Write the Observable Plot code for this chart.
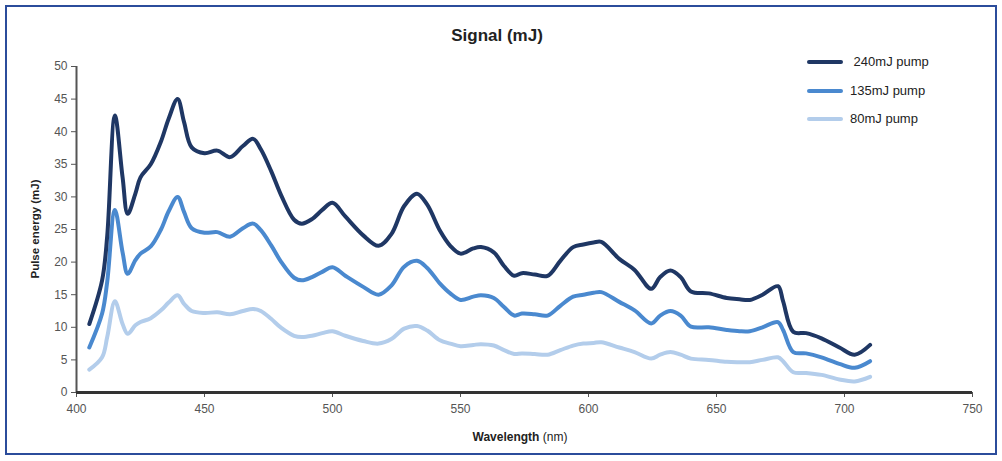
<!DOCTYPE html>
<html>
<head>
<meta charset="utf-8">
<script src="https://cdn.jsdelivr.net/npm/d3@7"></script>
<script src="https://cdn.jsdelivr.net/npm/@observablehq/plot@0.6"></script>
<style>
  body { margin: 0; background: #fff; }
  #wrap { position: relative; width: 1002px; height: 461px; overflow: hidden; font-family: "Liberation Sans", Arial, sans-serif; }
  #frame { position: absolute; left: 5px; top: 5px; width: 988px; height: 446px; border: 2.5px solid #2b4c9b; pointer-events: none; }
  .lbl { position: absolute; white-space: nowrap; color: #222; transform: translate(-50%, -50%); }
  #title { left: 497px; top: 36px; font-weight: bold; font-size: 17px; color: #222; }
  #ylab { left: 35px; top: 229px; font-weight: bold; font-size: 11.5px; transform: translate(-50%, -50%) rotate(-90deg); }
  #xlab { left: 520px; top: 437px; font-weight: bold; font-size: 12px; }
  #xlab span { font-weight: normal; }
  .leg { position: absolute; left: 807px; display: flex; align-items: center; font-size: 13px; color: #222; }
  .sw { width: 36px; height: 4px; margin-right: 7px; border-radius: 2px; }
</style>
</head>
<body>
<div id="wrap">
  <div id="chart"></div>
  <div id="title" class="lbl">Signal (mJ)</div>
  <div id="ylab" class="lbl">Pulse energy (mJ)</div>
  <div id="xlab" class="lbl">Wavelength <span>(nm)</span></div>
  <div id="legend"></div>
  <div id="frame"></div>
</div>
<script>
const wavelength = [405,410,412,415,418,420,423,425,429,433,436,439.5,442,445,450,455,460,465,469,472,476,480,485,488,492,496,500,505,512,518,523,528,533,537,542,546,550,555,558,563,567,571,574,579,584,589,594,598,602,605,612,618,624.5,628,632,636,640,647,654,659,663,668,674,676,680,685,691,698,704,710];

const pump240 = [10.5,17.2,24,42.5,33,27.4,30.5,33,35,38.5,42,45,41.5,37.6,36.7,37.1,36.1,37.8,38.9,37.3,34,30.2,26.5,25.9,26.6,28,29.1,27,24.1,22.5,24.3,28.6,30.5,28.8,24.8,22.5,21.3,22.1,22.3,21.5,19.4,17.9,18.3,18.1,17.9,20.2,22.3,22.7,23.0,23.1,20.5,18.8,15.9,17.7,18.7,17.7,15.5,15.2,14.5,14.3,14.2,15.0,16.3,14,9.3,9.1,8.3,6.9,5.8,7.3];

const pump135 = [6.9,12.1,17,28,21.5,18.2,20.3,21.3,22.4,25,27.8,30,27.7,25.2,24.5,24.6,23.9,25.2,25.9,24.9,22.6,20.0,17.6,17.2,17.7,18.5,19.2,17.9,16.2,15.0,16.4,19.3,20.2,19.1,16.7,15.2,14.2,14.7,14.9,14.5,13.1,11.8,12.1,12.0,11.8,13.3,14.7,15.0,15.3,15.4,13.9,12.6,10.6,11.8,12.5,11.8,10.1,10.0,9.6,9.4,9.4,10.0,10.8,9.6,6.2,6.0,5.4,4.4,3.8,4.8];

const pump80 = [3.5,5.4,8.5,14.0,10.5,9.0,10.3,10.8,11.4,12.6,13.8,14.9,13.6,12.5,12.2,12.3,12.0,12.5,12.8,12.5,11.3,9.9,8.7,8.5,8.7,9.1,9.4,8.7,7.9,7.5,8.2,9.8,10.2,9.5,8.0,7.5,7.1,7.3,7.4,7.2,6.5,5.9,6.0,5.9,5.8,6.5,7.2,7.5,7.6,7.7,6.9,6.2,5.2,5.8,6.2,5.8,5.2,5.0,4.7,4.65,4.65,5.0,5.4,4.8,3.1,3.0,2.7,2.0,1.7,2.4];

const seriesNames = [" 240mJ pump", "135mJ pump", "80mJ pump"];
const seriesColors = ["#1f3764", "#4a89cf", "#b3cdeb"];
const xTicks = [400,450,500,550,600,650,700,750];
const yTicks = [0,5,10,15,20,25,30,35,40,45,50];

const seriesValues = [pump240, pump135, pump80];
const rows = [];
// draw light first so dark is on top
for (let s = seriesValues.length - 1; s >= 0; s--) {
  seriesValues[s].forEach((v, i) => rows.push({w: wavelength[i], v, series: seriesNames[s]}));
}

const chart = Plot.plot({
  width: 1002,
  height: 461,
  marginLeft: 76,
  marginRight: 30,
  marginTop: 66,
  marginBottom: 69,
  style: {fontFamily: "'Liberation Sans', Arial, sans-serif", fontSize: "12px", color: "#555", background: "transparent"},
  x: {domain: [400, 750], label: null},
  y: {domain: [0, 50], label: null},
  color: {domain: seriesNames, range: seriesColors},
  marks: [
    Plot.axisY({ticks: yTicks, tickSize: 5, tickPadding: 4, label: null, stroke: "#555"}),
    Plot.axisX({ticks: xTicks, tickSize: 5, tickPadding: 7, label: null, stroke: "#555"}),
    Plot.ruleX([400], {stroke: "#555", strokeWidth: 2}),
    Plot.ruleY([0], {stroke: "#333", strokeWidth: 3}),
    Plot.line(rows, {x: "w", y: "v", z: "series", stroke: "series", curve: "catmull-rom", strokeWidth: 4, strokeLinejoin: "round", strokeLinecap: "round"})
  ]
});
document.getElementById("chart").appendChild(chart);

const legend = document.getElementById("legend");
const legendY = [62, 91, 119];
seriesNames.forEach((name, i) => {
  const row = document.createElement("div");
  row.className = "leg";
  row.style.top = (legendY[i] - 8) + "px";
  const sw = document.createElement("div");
  sw.className = "sw";
  sw.style.background = seriesColors[i];
  const t = document.createElement("span");
  t.textContent = name;
  t.style.whiteSpace = "pre";
  row.appendChild(sw);
  row.appendChild(t);
  legend.appendChild(row);
});
</script>
</body>
</html>
